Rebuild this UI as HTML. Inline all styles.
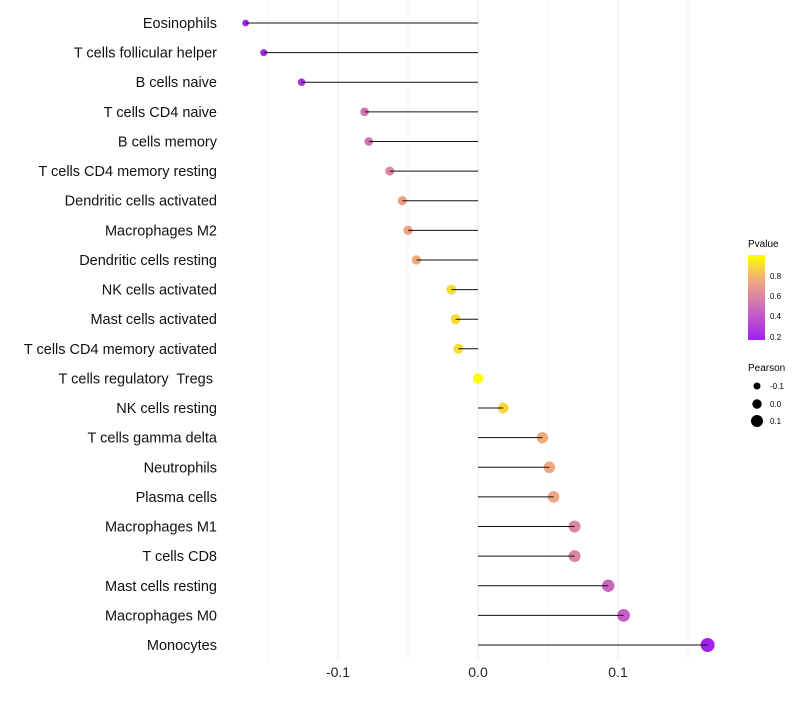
<!DOCTYPE html>
<html><head><meta charset="utf-8"><style>
body{margin:0;background:#fff;font-family:"Liberation Sans",sans-serif}
</style></head><body>
<svg id="chart" width="800" height="700" xmlns="http://www.w3.org/2000/svg">
<defs><linearGradient id="pg" x1="0" y1="1" x2="0" y2="0">
<stop offset="0" stop-color="#a020f0"/><stop offset="0.4" stop-color="#d070b8"/><stop offset="0.7" stop-color="#f0a880"/><stop offset="1" stop-color="#ffff00"/></linearGradient></defs>
<g id="grid"></g><g id="dots"></g><g id="stems"></g><g id="labels"></g>
<g>
<text x="748" y="247" font-size="10">Pvalue</text>
<rect x="748" y="255" width="17" height="85" fill="url(#pg)"/>
<text x="770" y="279" font-size="8">0.8</text><text x="770" y="299" font-size="8">0.6</text>
<text x="770" y="319" font-size="8">0.4</text><text x="770" y="340" font-size="8">0.2</text>
</g>
<g>
<text x="748" y="371" font-size="10">Pearson</text>
<circle cx="757" cy="386" r="3.5"/><text x="770" y="389" font-size="8">-0.1</text>
<circle cx="757" cy="404" r="4.7"/><text x="770" y="407" font-size="8">0.0</text>
<circle cx="757" cy="421" r="6"/><text x="770" y="424" font-size="8">0.1</text>
</g>
</svg>
<script>
const cells=["Eosinophils","T cells follicular helper","B cells naive","T cells CD4 naive","B cells memory","T cells CD4 memory resting","Dendritic cells activated","Macrophages M2","Dendritic cells resting","NK cells activated","Mast cells activated","T cells CD4 memory activated","T cells regulatory  Tregs ","NK cells resting","T cells gamma delta","Neutrophils","Plasma cells","Macrophages M1","T cells CD8","Mast cells resting","Macrophages M0","Monocytes"];
const pearson=[-0.166,-0.153,-0.126,-0.081,-0.078,-0.063,-0.054,-0.050,-0.044,-0.019,-0.016,-0.014,0.000,0.018,0.046,0.051,0.054,0.069,0.069,0.093,0.104,0.164];
const pvalue=[0.18,0.2,0.25,0.52,0.52,0.6,0.7,0.72,0.76,0.9,0.9,0.9,1.0,0.88,0.76,0.75,0.74,0.6,0.6,0.45,0.42,0.18];
const ticks=[-0.1,0.0,0.1];
const tickLabels=["-0.1","0.0","0.1"];
const minorTicks=[-0.15,-0.05,0.05,0.15];
const NS="http://www.w3.org/2000/svg";
const x=v=>478+v*1400;
const y=i=>23+i*(622/21);
const r=v=>Math.max(1.5,5.2+11*v);
const stops=[[0.17,[160,32,240]],[0.5,[208,112,184]],[0.75,[240,168,128]],[1.0,[255,255,0]]];
function col(p){p=Math.max(0.17,Math.min(1,p));for(let k=0;k<stops.length-1;k++){const a=stops[k],b=stops[k+1];if(p<=b[0]){const t=(p-a[0])/(b[0]-a[0]);return "rgb("+a[1].map((c,j)=>Math.round(c+(b[1][j]-c)*t)).join(",")+")";}}return "rgb(255,255,0)";}
function mk(tag,at,par){const e=document.createElementNS(NS,tag);for(const k in at)e.setAttribute(k,at[k]);document.getElementById(par).appendChild(e);return e;}
minorTicks.forEach(t=>{const l=mk("line",{x1:x(t),x2:x(t),y1:0,y2:660,stroke:"#f2f2f2","stroke-width":0.7},"grid");

});
ticks.forEach((t,i)=>{const l=mk("line",{x1:x(t),x2:x(t),y1:0,y2:660,stroke:"#ebebeb","stroke-width":1},"grid");


const tx=mk("text",{x:x(t),y:677,"font-size":14,"text-anchor":"middle",fill:"#222"},"labels");tx.textContent=tickLabels[i];

});
cells.forEach((c,i)=>{
const d=mk("circle",{cx:x(pearson[i]),cy:y(i),r:r(pearson[i]),fill:col(pvalue[i])},"dots");


const l=mk("line",{x1:x(0),x2:x(pearson[i]),y1:y(i),y2:y(i),stroke:"#111","stroke-width":1},"stems");


const t=mk("text",{x:217,y:y(i)+5,"font-size":14.5,"text-anchor":"end",fill:"#111","xml:space":"preserve"},"labels");t.textContent=c;t.style.whiteSpace="pre";

});
</script>
</body></html>
